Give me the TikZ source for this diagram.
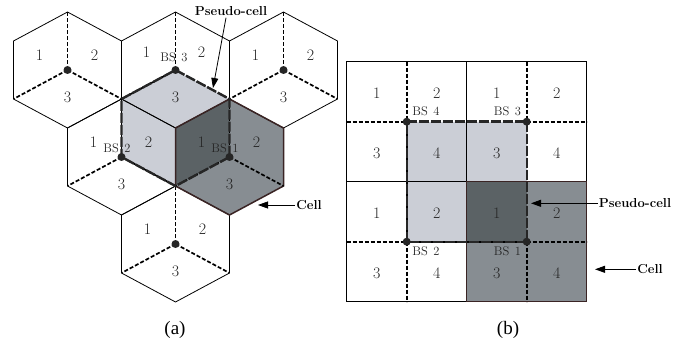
\documentclass[tikz,border=0pt]{standalone}
\usepackage{fontspec}
\newfontfamily\capfont{Liberation Serif}
\usetikzlibrary{arrows.meta,calc}
\definecolor{lightg}{HTML}{CBCED6}
\definecolor{midg}{HTML}{878D92}
\definecolor{darkg}{HTML}{5B6265}
\definecolor{cellline}{HTML}{3A2424}
\definecolor{numc}{HTML}{262626}
\newcommand{\bsl}[1]{BS\hspace{0.45em}#1}
\tikzset{
 edge/.style={draw=black, line width=0.8pt},
 cellb/.style={draw=cellline, line width=1.5pt},
 sect/.style={draw=black, line width=1.7pt, dash pattern=on 4pt off 2pt},
 pseudo/.style={draw=black!85, line width=2.4pt, dash pattern=on 10pt off 2pt},
 bsdot/.style={circle, fill=black!85, inner sep=0pt, minimum size=8pt},
 num/.style={font=\fontsize{16}{18}\selectfont, text=numc, inner sep=0pt},
 bslab/.style={font=\fontsize{12.5}{14}\selectfont, text=numc, inner sep=0pt},
 callout/.style={font=\fontsize{13}{15}\selectfont\bfseries, inner sep=1pt},
 pointer/.style={-{Triangle[length=10pt,width=7pt]}, line width=0.8pt},
 caption/.style={font=\capfont\fontsize{19}{21}\selectfont, inner sep=0pt}
}
\begin{document}
\begin{tikzpicture}[x=1pt,y=-1pt]
\useasboundingbox (0,0) rectangle (683,342);
% ---------- (a) hexagons ----------
\foreach \n/\x/\y in {1/67.5/70, 2/175.5/70, 3/283.5/70, 4/121.5/157, 5/229.5/157, 6/175.5/244}{
 \coordinate (h\n) at (\x,\y);
 \coordinate (h\n-t) at (\x,\y-58);
 \coordinate (h\n-ur) at (\x+54,\y-29);
 \coordinate (h\n-lr) at (\x+54,\y+29);
 \coordinate (h\n-b) at (\x,\y+58);
 \coordinate (h\n-ll) at (\x-54,\y+29);
 \coordinate (h\n-ul) at (\x-54,\y-29);
}
% fills
\fill[midg] (h5-t)--(h5-ur)--(h5-lr)--(h5-b)--(h5-ll)--(h5-ul)--cycle;
\fill[lightg] (h2)--(h5-t)--(h5)--(h5-ll)--(h4)--(h4-t)--cycle;
\fill[darkg] (h5)--(h5-t)--(h5-ul)--(h5-ll)--cycle;
% outlines
\foreach \n in {1,2,3,4,6}{
 \draw[edge] (h\n-t)--(h\n-ur)--(h\n-lr)--(h\n-b)--(h\n-ll)--(h\n-ul)--cycle;
}
\draw[cellb] (h5-t)--(h5-ur)--(h5-lr)--(h5-b)--(h5-ll)--(h5-ul)--cycle;
% sector lines
\foreach \n in {1,...,6}{
 \draw[sect] (h\n)--(h\n-t);
 \draw[sect] (h\n)--(h\n-ll);
 \draw[sect] (h\n)--(h\n-lr);
}
% pseudo-cell
\draw[pseudo] (h2)--(h5-t)--(h5)--(h5-ll)--(h4)--(h4-t)--cycle;
% dots
\foreach \n in {1,...,6}{ \node[bsdot] (d\n) at (h\n) {}; }
% numbers
\foreach \n in {1,3,4,5,6}{
 \node[num] (n\n a) at ($(h\n)+(-28,-15)$) {1};
 \node[num] (n\n b) at ($(h\n)+(27,-15)$) {2};
 \node[num] (n\n c) at ($(h\n)+(0,27)$) {3};
}
\node[num] (n2a) at ($(h2)+(-29,-18)$) {1};
\node[num] (n2b) at ($(h2)+(26,-18)$) {2};
\node[num] (n2c) at ($(h2)+(0,27)$) {3};
\node[bslab] (bs3a) at (174,57) {\bsl{3}};
\node[bslab] (bs2a) at (117,148) {\bsl{2}};
\node[bslab] (bs1a) at (225,148) {\bsl{1}};
% callouts
\node[callout] (pa) at (231,11) {Pseudo-cell};
\coordinate (pa-tip) at (213,88);
\draw[pointer] ($(pa.south)+(-5,1)$) -- (pa-tip);
\node[callout] (ca) at (309,205) {Cell};
\coordinate (ca-tip) at (258,205);
\draw[pointer] (ca.west) -- (ca-tip);
\node[caption] (capa) at (175,330) {(a)};
% ---------- (b) grid ----------
\coordinate (g00) at (346.7,61.7);
\coordinate (g44) at (586.7,301.7);
\fill[midg] (466.7,181.7) rectangle (586.7,301.7);
\fill[lightg] (406.7,121.7) rectangle (526.7,241.7);
\fill[darkg] (466.7,181.7) rectangle (526.7,241.7);
\draw[edge] (g00) rectangle (g44);
\draw[edge] (466.7,61.7)--(466.7,301.7);
\draw[edge] (346.7,181.7)--(586.7,181.7);
\draw[cellb] (466.7,181.7) rectangle (586.7,301.7);
\draw[sect] (406.7,61.7)--(406.7,301.7);
\draw[sect] (526.7,61.7)--(526.7,301.7);
\draw[sect] (346.7,121.7)--(586.7,121.7);
\draw[sect] (346.7,241.7)--(586.7,241.7);
\coordinate (bs4) at (406.7,121.7);
\coordinate (bs3) at (526.7,121.7);
\coordinate (bs2) at (406.7,241.7);
\coordinate (bs1) at (526.7,241.7);
\draw[pseudo] (bs4)--(bs3)--(bs1)--(bs2)--cycle;
\foreach \p in {bs1,bs2,bs3,bs4}{ \node[bsdot] (d\p) at (\p) {}; }
\foreach \r/\la/\lb in {0/1/2, 1/3/4, 2/1/2, 3/3/4}{
 \foreach \c/\l in {0/\la, 1/\lb, 2/\la, 3/\lb}{
  \node[num] (g\r\c) at (376.7+60*\c, 93+60*\r) {\l};
 }
}
\node[bslab] (bs4b) at (426,111.7) {\bsl{4}};
\node[bslab] (bs3b) at (507.5,111.7) {\bsl{3}};
\node[bslab] (bs2b) at (426,251.7) {\bsl{2}};
\node[bslab] (bs1b) at (507.5,251.7) {\bsl{1}};
\node[callout] (pb) at (635,203.3) {Pseudo-cell};
\coordinate (pb-tip) at (531,203.3);
\draw[pointer] (pb.west) -- (pb-tip);
\node[callout] (cb) at (650,269.3) {Cell};
\coordinate (cb-tip) at (595,269.3);
\draw[pointer] (cb.west) -- (cb-tip);
\node[caption] (capb) at (508,330) {(b)};
\end{tikzpicture}
\end{document}
